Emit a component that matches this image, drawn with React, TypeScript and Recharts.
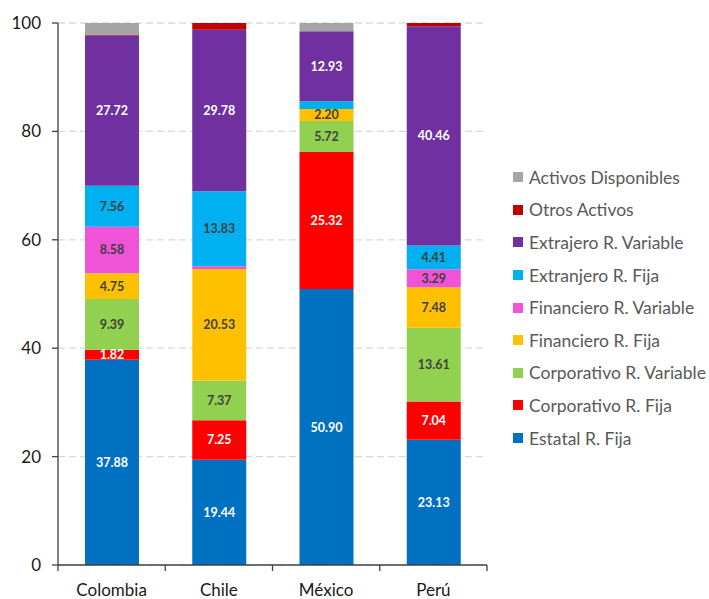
import React from 'react';
import { BarChart, Bar, XAxis, YAxis, CartesianGrid, LabelList } from 'recharts';

const COUNTRIES = ['Colombia', 'Chile', 'México', 'Perú'];

// participación por tipo de activo (%)
const ESTATAL_FIJA = [37.88, 19.44, 50.9, 23.13];
const CORP_FIJA = [1.82, 7.25, 25.32, 7.04];
const CORP_VARIABLE = [9.39, 7.37, 5.72, 13.61];
const FIN_FIJA = [4.75, 20.53, 2.2, 7.48];
const FIN_VARIABLE = [8.58, 0.55, 0, 3.29];
const EXT_FIJA = [7.56, 13.83, 1.4, 4.41];
const EXT_VARIABLE = [27.72, 29.78, 12.93, 40.46];
const OTROS = [0.08, 1.25, 0, 0.58];
const DISPONIBLES = [2.2, 0, 1.53, 0];

const Y_TICKS = [0, 20, 40, 60, 80, 100];

const FONT = 'Lato, "Open Sans", sans-serif';

type Serie = { key: string; name: string; values: number[]; color: string; text: string; labeled: boolean };

const SERIES: Serie[] = [
  { key: 'estatalFija', name: 'Estatal R. Fija', values: ESTATAL_FIJA, color: '#0070C0', text: '#FFFFFF', labeled: true },
  { key: 'corpFija', name: 'Corporativo R. Fija', values: CORP_FIJA, color: '#FF0000', text: '#FFFFFF', labeled: true },
  { key: 'corpVariable', name: 'Corporativo R. Variable', values: CORP_VARIABLE, color: '#92D050', text: '#404040', labeled: true },
  { key: 'finFija', name: 'Financiero R. Fija', values: FIN_FIJA, color: '#FFC000', text: '#404040', labeled: true },
  { key: 'finVariable', name: 'Financiero R. Variable', values: FIN_VARIABLE, color: '#F052D8', text: '#404040', labeled: true },
  { key: 'extFija', name: 'Extranjero R. Fija', values: EXT_FIJA, color: '#00B0F0', text: '#404040', labeled: true },
  { key: 'extVariable', name: 'Extrajero R. Variable', values: EXT_VARIABLE, color: '#7030A0', text: '#FFFFFF', labeled: true },
  { key: 'otros', name: 'Otros Activos', values: OTROS, color: '#C00000', text: '#FFFFFF', labeled: false },
  { key: 'disponibles', name: 'Activos Disponibles', values: DISPONIBLES, color: '#A5A5A5', text: '#404040', labeled: false },
];

const data = COUNTRIES.map((country, i) => {
  const row: Record<string, string | number> = { country };
  SERIES.forEach((s) => {
    row[s.key] = s.values[i];
  });
  return row;
});

const makeLabel = (color: string) => (props: any) => {
  const { x, y, width, height, value } = props;
  if (value == null || value < 1.5) return null;
  return (
    <text
      x={x + width / 2}
      y={y + height / 2}
      textAnchor="middle"
      dominantBaseline="central"
      fill={color}
      fontFamily={FONT}
      fontWeight={700}
      fontSize={12.5}
    >
      {Number(value).toFixed(2)}
    </text>
  );
};

// category label plus the boundary tick marks between categories
const CountryTick = (props: any) => {
  const { x, y, payload, index, visibleTicksCount } = props;
  const half = payload.offset ?? 0;
  const axisY = y - 10;
  return (
    <g>
      <line x1={x - half} x2={x - half} y1={axisY} y2={axisY + 6} stroke="#404040" strokeWidth={1.3} />
      {index === visibleTicksCount - 1 && (
        <line x1={x + half} x2={x + half} y1={axisY} y2={axisY + 6} stroke="#404040" strokeWidth={1.3} />
      )}
      <text x={x} y={y + 7} textAnchor="middle" dominantBaseline="hanging" fill="#1a1a1a" fontFamily={FONT} fontSize={17}>
        {payload.value}
      </text>
    </g>
  );
};

const LegendBox = () => (
  <div
    style={{
      position: 'absolute',
      left: 513,
      top: 161,
      fontFamily: FONT,
      fontSize: 17.5,
      color: '#595959',
    }}
  >
    {[...SERIES].reverse().map((s) => (
      <div key={s.key} style={{ display: 'flex', alignItems: 'center', height: 32.6 }}>
        <span style={{ width: 10, height: 10, background: s.color, marginRight: 6, flexShrink: 0 }} />
        <span style={{ whiteSpace: 'nowrap' }}>{s.name}</span>
      </div>
    ))}
  </div>
);

export default function App() {
  return (
    <div style={{ position: 'absolute', left: 0, top: 0, width: 709, height: 599, background: '#fff' }}>
      <BarChart
        width={709}
        height={599}
        data={data}
        margin={{ top: 23, right: 222, bottom: 0, left: 0 }}
        barSize={54}
      >
        <CartesianGrid vertical={false} stroke="#D9D9D9" strokeDasharray="7 4" strokeWidth={1.2} />
        <XAxis
          dataKey="country"
          height={34}
          axisLine={{ stroke: '#404040', strokeWidth: 1.3 }}
          tickLine={false}
          tickSize={0}
          tickMargin={10}
          tick={<CountryTick />}
          interval={0}
        />
        <YAxis
          domain={[0, 100]}
          ticks={Y_TICKS}
          width={58}
          axisLine={{ stroke: '#404040', strokeWidth: 1.3 }}
          tickLine={{ stroke: '#404040', strokeWidth: 1.3 }}
          tickSize={6}
          tickMargin={11}
          tick={{ fill: '#1a1a1a', fontSize: 17, fontFamily: FONT }}
        />
        {SERIES.map((s) => (
          <Bar key={s.key} dataKey={s.key} name={s.name} stackId="a" fill={s.color} isAnimationActive={false}>
            {s.labeled && <LabelList dataKey={s.key} content={makeLabel(s.text)} />}
          </Bar>
        ))}
      </BarChart>
      <LegendBox />
    </div>
  );
}
